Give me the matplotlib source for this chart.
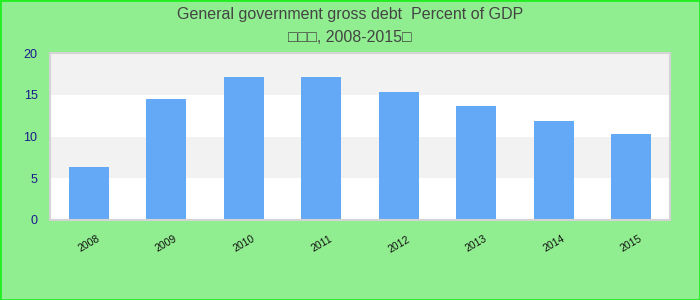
import matplotlib.pyplot as plt
from matplotlib.patches import Rectangle

years = ['2008', '2009', '2010', '2011', '2012', '2013', '2014', '2015']
debt = [6.3, 14.5, 17.1, 17.1, 15.3, 13.7, 11.9, 10.3]

plt.rcParams['font.family'] = ['Liberation Sans', 'DejaVu Sans']

fig = plt.figure(figsize=(7, 3), dpi=100, facecolor='#90ee90')
fig.patches.append(Rectangle((0, 0), 1, 1, transform=fig.transFigure, fill=False,
                             edgecolor='#22ee22', linewidth=2, zorder=10))

ax = fig.add_axes([50/700, 80/300, 620/700, 167/300])
ax.set_facecolor('white')

# alternating horizontal bands
for lo in [5, 15]:
    ax.axhspan(lo, lo + 5, color='#f2f2f2', zorder=0, linewidth=0)

x = list(range(len(years)))
ax.bar(x, debt, width=0.52, color='#63a9f5', zorder=2)

ax.set_xlim(-0.5, len(years) - 0.5)
ax.set_ylim(0, 20)
ax.set_yticks([0, 5, 10, 15, 20])
ax.set_xticks(x)
ax.set_xticklabels(years, rotation=30, fontsize=7.5, color='#111111')
ax.tick_params(axis='y', labelsize=9, colors='#1a1a8c', length=0, pad=9)
ax.tick_params(axis='x', length=0, pad=10)
for s in ax.spines.values():
    s.set_color('#d4d4d4')
    s.set_linewidth(1.5)

fig.text(0.5, 1 - 14/300, 'General government gross debt  Percent of GDP',
         ha='center', va='center', fontsize=11.5, color='#444444')
fig.text(0.5, 1 - 37/300, '\u25a1\u25a1\u25a1, 2008-2015\u25a1',
         ha='center', va='center', fontsize=11.5, color='#444444')

fig.savefig('out.png', dpi=100, facecolor=fig.get_facecolor())
